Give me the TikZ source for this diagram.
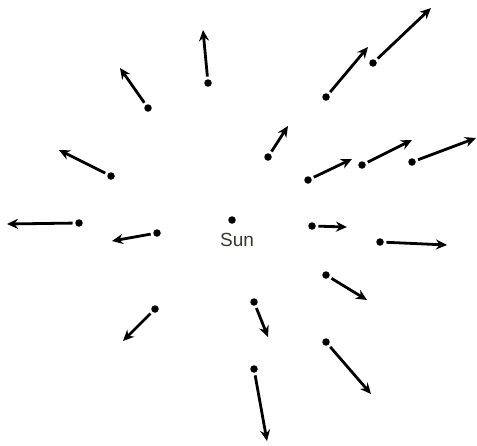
\documentclass[tikz,border=0pt]{standalone}
\usepackage{fontspec}
\setmainfont{Liberation Sans}
\usetikzlibrary{arrows.meta}
\definecolor{suntext}{HTML}{3A3530}
\begin{document}
\begin{tikzpicture}[x=1pt,y=-1pt,
  dot/.style={circle,fill=black,inner sep=0pt,minimum size=7.5pt},
  vel/.style={line width=2.8pt,-{Stealth[length=11pt,width=10pt]},shorten <=2.5pt}]
\useasboundingbox (0,0) rectangle (477,445);
\node[dot] (sun) at (232,220) {};
\node[text=suntext,font=\fontsize{19}{22}\selectfont] (sunlabel) at (237,240) {Sun};
\foreach \i/\dx/\dy/\tx/\ty in {
  1/208/83/203/30,
  2/148/108/120/68,
  3/111/176/59/150,
  4/79/223/7/224,
  5/157/233/112/241,
  6/155/309/123/341,
  8/254/302/268/337,
  9/254/369/267/441,
  10/326/342/371/394,
  11/326/275/367/300,
  12/312/226/347/227,
  13/380/242/447/245,
  14/268/157/288/126,
  15/308/180/352/159,
  16/362/165/412/140,
  17/412/162/476/138,
  18/326/97/368/47,
  19/373/63/431/8}{
  \node[dot] (d\i) at (\dx,\dy) {};
  \coordinate (t\i) at (\tx,\ty);
  \draw[vel] (d\i) -- (t\i);
}
\end{tikzpicture}
\end{document}
